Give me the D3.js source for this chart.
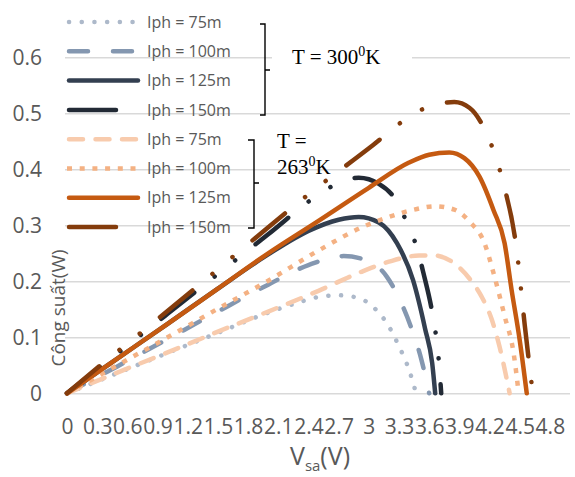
<!DOCTYPE html>
<html>
<head>
<meta charset="utf-8">
<script src="https://cdn.jsdelivr.net/npm/d3@7"></script>
<style>
  body { margin: 0; background: #fff; }
  svg text { font-family: "Open Sans", "Noto Sans", sans-serif; }
</style>
</head>
<body>
<script>
// T = 300K
const v300_75  = [0, 0.5, 1.0, 1.5, 2.0, 2.28, 2.5, 2.7, 2.9, 3.05, 3.18, 3.3, 3.4, 3.47];
const p300_75  = [0, 0.036, 0.072, 0.108, 0.144, 0.161, 0.172, 0.175, 0.17, 0.153, 0.125, 0.084, 0.042, 0];
const v300_100 = [0, 0.5, 1.0, 1.5, 2.0, 2.4, 2.75, 3.0, 3.18, 3.3, 3.42, 3.52, 3.6];
const p300_100 = [0, 0.048, 0.097, 0.146, 0.194, 0.229, 0.245, 0.236, 0.208, 0.17, 0.118, 0.062, 0];
const v300_125 = [0, 0.5, 1.0, 1.5, 2.0, 2.4, 2.7, 2.9, 3.1, 3.28, 3.44, 3.56, 3.63, 3.66];
const p300_125 = [0, 0.062, 0.124, 0.187, 0.248, 0.29, 0.31, 0.315, 0.305, 0.268, 0.202, 0.115, 0.054, 0];
const v300_150 = [0, 0.5, 1.0, 1.5, 2.0, 2.47, 2.68, 2.9, 3.1, 3.28, 3.39, 3.48, 3.54, 3.64, 3.69, 3.72];
const p300_150 = [0, 0.071, 0.142, 0.213, 0.284, 0.351, 0.374, 0.385, 0.374, 0.342, 0.3, 0.259, 0.217, 0.134, 0.07, 0];
// T = 263K
const v263_75  = [0, 0.5, 1.0, 1.5, 2.0, 2.5, 2.9, 3.2, 3.5, 3.65, 3.85, 4.0, 4.12, 4.22, 4.3, 4.36, 4.4];
const p263_75  = [0, 0.037, 0.073, 0.11, 0.146, 0.183, 0.215, 0.235, 0.246, 0.246, 0.232, 0.205, 0.173, 0.133, 0.083, 0.035, 0];
const v263_100 = [0, 0.5, 1.0, 1.5, 2.0, 2.5, 2.95, 3.2, 3.45, 3.66, 3.85, 4.0, 4.15, 4.25, 4.35, 4.44, 4.49];
const p263_100 = [0, 0.05, 0.1, 0.151, 0.201, 0.255, 0.298, 0.315, 0.328, 0.334, 0.328, 0.307, 0.268, 0.208, 0.138, 0.071, 0];
const v263_125 = [0, 0.5, 1.0, 1.5, 2.0, 2.5, 3.0, 3.4, 3.6, 3.8, 3.95, 4.1, 4.24, 4.35, 4.42, 4.5, 4.57];
const p263_125 = [0, 0.062, 0.124, 0.187, 0.25, 0.308, 0.367, 0.412, 0.426, 0.43, 0.42, 0.387, 0.327, 0.268, 0.184, 0.095, 0];
const v263_150 = [0, 0.36, 0.76, 1.29, 1.87, 2.42, 3.04, 3.38, 3.61, 3.85, 4.0, 4.17, 4.33, 4.47, 4.55, 4.63];
const p263_150 = [0, 0.054, 0.112, 0.19, 0.277, 0.358, 0.443, 0.491, 0.513, 0.52, 0.51, 0.464, 0.38, 0.256, 0.122, 0];

const legendLabels = ["Iph = 75m", "Iph = 100m", "Iph = 125m", "Iph = 150m",
                      "Iph = 75m", "Iph = 100m", "Iph = 125m", "Iph = 150m"];
const yTicks = [0, 0.1, 0.2, 0.3, 0.4, 0.5, 0.6];
const xTicks = [0, 0.3, 0.6, 0.9, 1.2, 1.5, 1.8, 2.1, 2.4, 2.7, 3, 3.3, 3.6, 3.9, 4.2, 4.5, 4.8];
const xTickLabels = ["0", "0.3", "0.6", "0.9", "1.2", "1.5", "1.8", "2.1", "2.4", "2.7", "3",
                     "3.3", "3.6", "3.9", "4.2", "4.5", "4.8"];

const W = 575, H = 477;
const svg = d3.select("body").append("svg").attr("width", W).attr("height", H);

const x = d3.scaleLinear().domain([0, 5]).range([67, 570]);
const y = d3.scaleLinear().domain([0, 0.7]).range([393.3, 1.3]);

// gridlines + y labels
const yAxis = d3.axisLeft(y).tickValues(yTicks).tickSize(-(570 - 65)).tickPadding(23)
  .tickFormat(d => d);
const gy = svg.append("g").attr("transform", "translate(65,0)").call(yAxis);
gy.select(".domain").remove();
gy.selectAll("line").attr("stroke", "#d9d9d9").attr("stroke-width", 1.4);
gy.selectAll("text").attr("fill", "#595959").style("font-size", "21px");

// x labels
const xAxis = d3.axisBottom(x).tickValues(xTicks).tickSize(0).tickPadding(26)
  .tickFormat((d, i) => xTickLabels[i]);
const gx = svg.append("g").attr("transform", "translate(0," + y(0) + ")").call(xAxis);
gx.select(".domain").remove();
gx.selectAll("text").attr("fill", "#595959").style("font-size", "21px");

// text box over the grid
svg.append("rect").attr("x", 272).attr("y", 32).attr("width", 140).attr("height", 58).attr("fill", "#fff");

const series = [
  {v: v300_75,  p: p300_75,  color: "#adb9ca", dash: "0.1 12.6", cap: "round"},
  {v: v300_100, p: p300_100, color: "#8497b0", dash: "19 25",    cap: "round"},
  {v: v300_125, p: p300_125, color: "#333f50", dash: null,       cap: "round"},
  {v: v300_150, p: p300_150, color: "#222a35", dash: "42 26 0.1 26 0.1 26", cap: "round"},
  {v: v263_75,  p: p263_75,  color: "#f8cbad", dash: "14 12.5",  cap: "round"},
  {v: v263_100, p: p263_100, color: "#f4b183", dash: "5 7.7",    cap: "butt"},
  {v: v263_125, p: p263_125, color: "#c55a11", dash: null,       cap: "round"},
  {v: v263_150, p: p263_150, color: "#843c0c", dash: "42 26 0.1 26 0.1 26", cap: "round"}
];

const line = d3.line().x(d => x(d[0])).y(d => y(d[1])).curve(d3.curveMonotoneX);

series.forEach(s => {
  svg.append("path")
    .datum(s.v.map((v, i) => [v, s.p[i]]))
    .attr("d", line)
    .attr("fill", "none")
    .attr("stroke", s.color)
    .attr("stroke-width", 4.5)
    .attr("stroke-linecap", s.cap)
    .attr("stroke-linejoin", "round")
    .attr("stroke-dasharray", s.dash);
});

// legend
const legend = svg.append("g");
series.forEach((s, i) => {
  const ly = 22 + i * 29.3;
  legend.append("line")
    .attr("x1", s.cap === "butt" ? 67 : 69).attr("x2", (i === 3 || i === 7) ? 116 : (s.cap === "butt" ? 140 : 138))
    .attr("y1", ly).attr("y2", ly)
    .attr("stroke", s.color).attr("stroke-width", 4.5)
    .attr("stroke-linecap", s.cap)
    .attr("stroke-dasharray", (i === 3 || i === 7) ? null : s.dash);
  legend.append("text")
    .attr("x", 147).attr("y", ly).attr("dy", "0.35em")
    .attr("fill", "#595959").style("font-size", "16px")
    .text(legendLabels[i]);
});

// brackets
const br = svg.append("g").attr("fill", "none").attr("stroke", "#000").attr("stroke-width", 1.4);
br.append("path").attr("d", "M260,24H265V115H260M265,70H270");
br.append("path").attr("d", "M248,140H254V228H248M254,183H259");

// annotations
const serif = "'Liberation Serif', 'Times New Roman', serif";
const t1 = svg.append("text").attr("x", 292).attr("y", 64).style("font-family", serif).style("font-size", "21px").attr("fill", "#000");
t1.append("tspan").text("T = 300");
t1.append("tspan").attr("dy", -8).style("font-size", "14px").text("0");
t1.append("tspan").attr("dy", 8).text("K");

const t2 = svg.append("text").style("font-family", serif).style("font-size", "21px").attr("fill", "#000");
t2.append("tspan").attr("x", 277).attr("y", 148).text("T =");
t2.append("tspan").attr("x", 277).attr("y", 174).text("263");
t2.append("tspan").attr("dy", -8).style("font-size", "14px").text("0");
t2.append("tspan").attr("dy", 8).text("K");

// axis titles
svg.append("text")
  .attr("transform", "translate(58,308) rotate(-90)")
  .attr("text-anchor", "middle").attr("dy", "0.35em")
  .attr("fill", "#595959").style("font-size", "19px")
  .text("Công suất(W)");

const xt = svg.append("text").attr("x", 320).attr("y", 465).attr("text-anchor", "middle")
  .attr("fill", "#595959").style("font-size", "25px");
xt.append("tspan").text("V");
xt.append("tspan").attr("dy", 6).style("font-size", "15px").text("sa");
xt.append("tspan").attr("dy", -6).text("(V)");
</script>
</body>
</html>
